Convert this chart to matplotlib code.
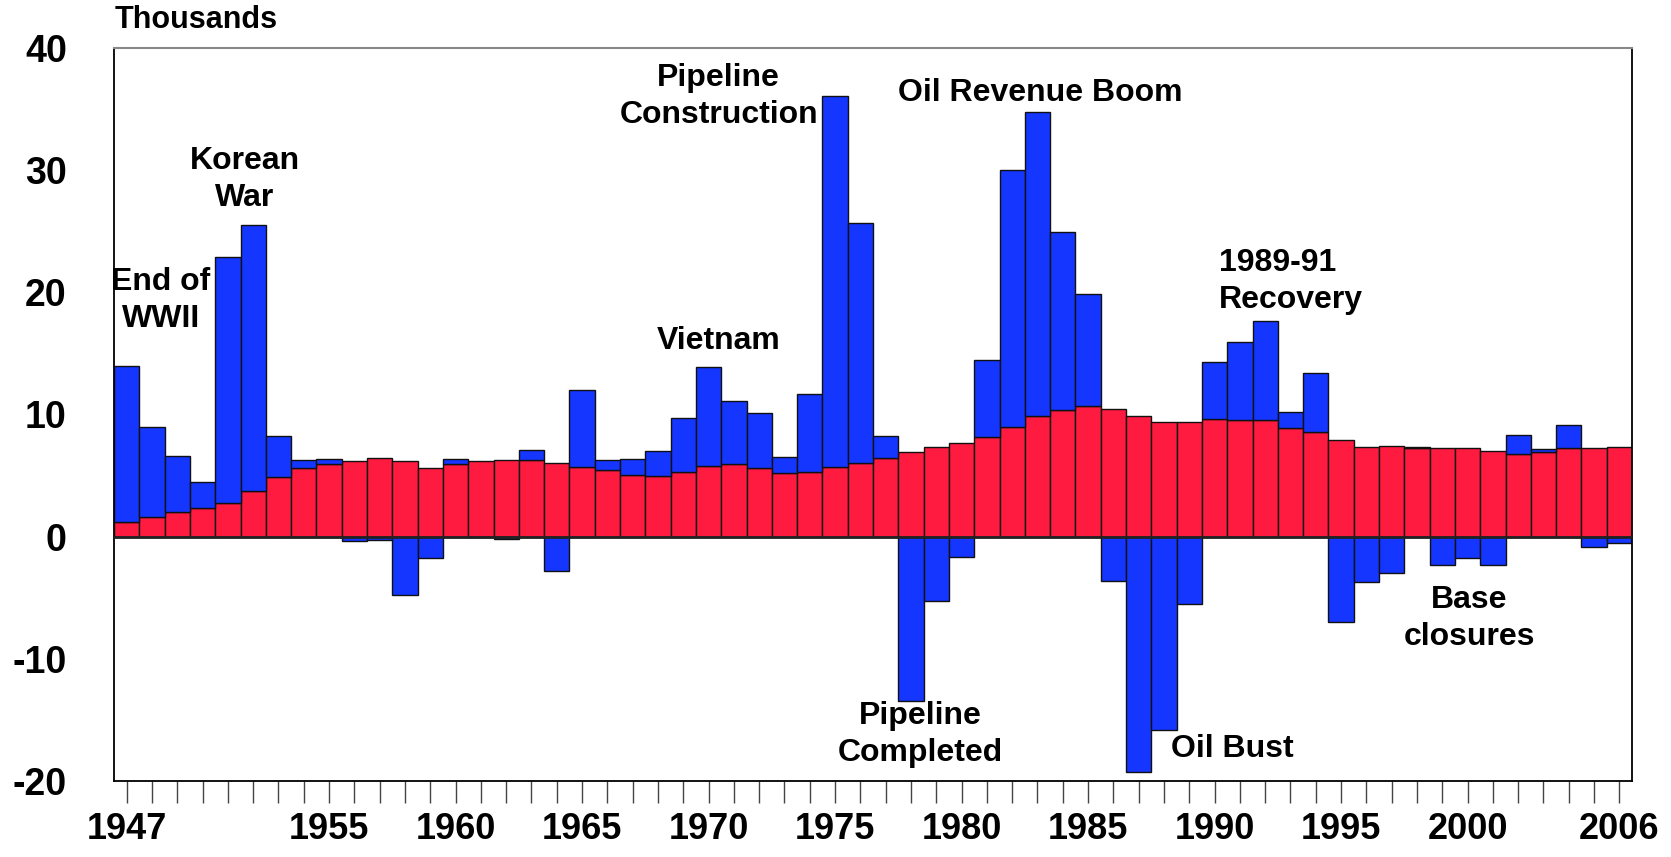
import numpy as np
import matplotlib.pyplot as plt

plt.rcParams['font.family'] = ['Liberation Sans', 'DejaVu Sans']
plt.rcParams['font.weight'] = 'bold'
plt.rcParams['axes.unicode_minus'] = False

years = np.arange(1947, 2007)

# natural increase (red), thousands
natural = [1.23, 1.64, 2.05, 2.32, 2.76, 3.77, 4.92, 5.6, 5.93, 6.23,
           6.45, 6.23, 5.6, 5.96, 6.23, 6.31, 6.31, 6.07, 5.74, 5.46,
           5.08, 5.0, 5.3, 5.82, 5.96, 5.63, 5.25, 5.3, 5.74, 6.07,
           6.48, 6.97, 7.38, 7.7, 8.14, 8.96, 9.84, 10.33, 10.66, 10.44,
           9.84, 9.37, 9.37, 9.6, 9.54, 9.54, 8.88, 8.55, 7.95, 7.38,
           7.43, 7.24, 7.24, 7.27, 7.02, 6.78, 6.91, 7.24, 7.24, 7.32]

# net migration (blue), thousands
migration = [12.77, 7.32, 4.53, 2.16, 20.14, 21.73, 3.36, 0.66, 0.46, -0.38,
             -0.27, -4.78, -1.78, 0.43, 0.0, -0.22, 0.77, -2.81, 6.26, 0.82,
             1.31, 2.0, 4.4, 8.06, 5.14, 4.53, 1.31, 6.4, 30.3, 19.63,
             1.72, -13.44, -5.3, -1.64, 6.34, 21.04, 24.96, 14.57, 9.24, -3.66,
             -19.3, -15.8, -5.52, 4.7, 6.36, 8.11, 1.32, 4.85, -7.02, -3.74,
             -3.0, 0.14, -2.35, -1.78, -2.35, 1.52, 0.3, 1.86, -0.87, -0.52]

labeled_years = [1947, 1955, 1960, 1965, 1970, 1975, 1980, 1985, 1990, 1995, 2000, 2006]

red = '#FF1A40'
blue = '#1436FF'

natural = np.array(natural)
migration = np.array(migration)
blue_bottom = np.where(migration > 0, natural, 0)

fig = plt.figure(figsize=(16.71, 8.57), dpi=100)
ax = fig.add_axes([114 / 1671, 1 - 781 / 857, (1632 - 114) / 1671, (781 - 48) / 857])

ax.bar(years, natural, width=1.0, color=red, edgecolor='#111111', linewidth=1, zorder=2)
ax.bar(years, migration, bottom=blue_bottom, width=1.0, color=blue,
       edgecolor='#111111', linewidth=1, zorder=2)
ax.axhline(0, color='#222222', linewidth=2, zorder=3)

ax.set_xlim(1946.5, 2006.5)
ax.set_ylim(-20, 40)
ax.set_yticks(range(-20, 41, 10))
ax.tick_params(axis='y', length=0, pad=34, labelsize=27)
ax.set_xticks(years)
ax.set_xticklabels([str(y) if y in labeled_years else '' for y in years])
ax.tick_params(axis='x', length=16, width=1, color='#444444', direction='out',
               pad=6, labelsize=26)

for side in ['left', 'right', 'bottom']:
    ax.spines[side].set_color('black')
    ax.spines[side].set_linewidth(1.3)
ax.spines['top'].set_color('#888888')
ax.spines['top'].set_linewidth(1.5)

fs = 23
ls = 1.3
ax.text(1948.36, 19.3, 'End of\nWWII', ha='center', va='center', fontsize=fs, linespacing=ls)
ax.text(1951.67, 29.2, 'Korean\nWar', ha='center', va='center', fontsize=fs, linespacing=ls)
ax.text(1970.4, 36.0, 'Pipeline\nConstruction', ha='center', va='center', fontsize=fs, linespacing=ls)
ax.text(1983.1, 36.3, 'Oil Revenue Boom', ha='center', va='center', fontsize=fs)
ax.text(1970.4, 16.0, 'Vietnam', ha='center', va='center', fontsize=fs)
ax.text(1990.17, 20.9, '1989-91\nRecovery', ha='left', va='center', fontsize=fs, linespacing=ls)
ax.text(1978.36, -16.2, 'Pipeline\nCompleted', ha='center', va='center', fontsize=fs, linespacing=ls)
ax.text(1990.7, -17.4, 'Oil Bust', ha='center', va='center', fontsize=fs)
ax.text(2000.07, -6.7, 'Base\nclosures', ha='center', va='center', fontsize=fs, linespacing=ls)

fig.text(115 / 1671, 1 - 20 / 857, 'Thousands', ha='left', va='center', fontsize=22)

fig.savefig('out.png', dpi=100)
